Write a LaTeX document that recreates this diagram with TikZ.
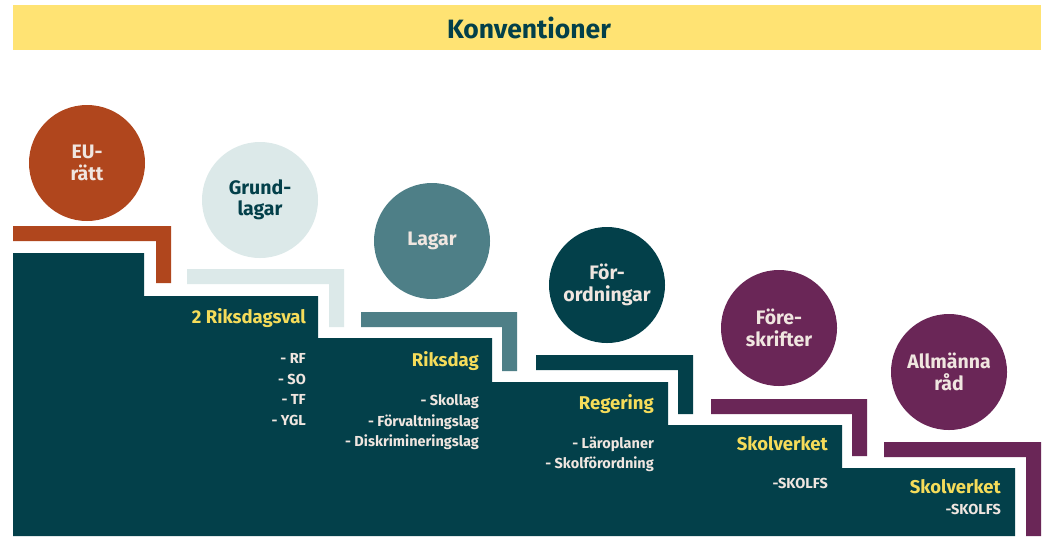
\documentclass[tikz,border=0pt]{standalone}
\usepackage{fontspec}
\setmainfont{Fira Sans}
\definecolor{band}{RGB}{255,227,115}
\definecolor{darkteal}{RGB}{3,64,74}
\definecolor{rust}{RGB}{176,70,29}
\definecolor{pale}{RGB}{220,233,233}
\definecolor{midteal}{RGB}{78,127,135}
\definecolor{plum}{RGB}{106,38,87}
\definecolor{gold}{RGB}{245,220,90}
\definecolor{cream}{RGB}{240,230,224}
\tikzset{
  disc/.style={circle, minimum size=116pt, inner sep=0pt, align=center, font=\fontsize{19.5}{21.5}\selectfont\bfseries},
  head/.style={anchor=east, inner sep=0pt, text=gold, font=\fontsize{18.5}{21}\selectfont\bfseries},
  item/.style={anchor=east, inner sep=0pt, text=cream, font=\fontsize{14.5}{17}\selectfont\bfseries},
}
\newcommand{\bracketshape}[5]{% color, L, T, R, B
  \fill[#1] (#2,#3) -- (#4,#3) -- (#4,#5) -- ({#4-15},#5) -- ({#4-15},{#3+15}) -- (#2,{#3+15}) -- cycle;}
\begin{document}
\begin{tikzpicture}[x=1pt,y=-1pt]
\useasboundingbox (0,0) rectangle (1048,536);
\fill[white] (0,0) rectangle (1048,536);
% title band
\fill[band] (13,5) rectangle (1041,50);
\node[font=\fontsize{26.5}{30}\selectfont\bfseries, text=darkteal, inner sep=0pt] (title) at (529,28) {Konventioner};
% staircase
\fill[darkteal] (13,253) -- (144,253) -- (144,296) -- (318,296) -- (318,338) -- (492,338) -- (492,382) -- (668,382) -- (668,425) -- (842,425) -- (842,468) -- (1015,468) -- (1015,536) -- (13,536) -- cycle;
% brackets
\bracketshape{rust}{13}{226}{171}{283}
\bracketshape{pale}{187}{269}{344}{327}
\bracketshape{midteal}{361}{312}{517}{371}
\bracketshape{darkteal}{536}{355}{693}{414}
\bracketshape{plum}{711}{399}{867}{456}
\bracketshape{plum}{884}{442}{1041}{536}
% circles
\node[disc, fill=rust, text=cream] (eu) at (87,163) {EU-\\rätt};
\node[disc, fill=pale, text=darkteal] (grund) at (260,200) {Grund-\\lagar};
\node[disc, fill=midteal, text=cream] (lagar) at (432,241) {Lagar};
\node[disc, fill=darkteal, text=cream] (forord) at (607,285) {För-\\ordningar};
\node[disc, fill=plum, text=cream] (fores) at (779,328) {Före-\\skrifter};
\node[disc, fill=plum, text=cream] (allm) at (949,372) {Allmänna\\råd};
% step texts
\node[head] (h1) at (306,318) {2 Riksdagsval};
\node[item] (rf) at (306,358) {- RF};
\node[item] (so) at (306,379) {- SO};
\node[item] (tf) at (306,399) {- TF};
\node[item] (ygl) at (306,420) {- YGL};
\node[head] (h2) at (479,361) {Riksdag};
\node[item] (skollag) at (479,402) {- Skollag};
\node[item] (forv) at (479,422) {- Förvaltningslag};
\node[item] (disk) at (479,442) {- Diskrimineringslag};
\node[head] (h3) at (654,404) {Regering};
\node[item] (laro) at (654,444) {- Läroplaner};
\node[item] (skolf) at (654,464) {- Skolförordning};
\node[head] (h4) at (828,444) {Skolverket};
\node[item] (skolfs1) at (828,483) {-SKOLFS};
\node[head] (h5) at (1001,487) {Skolverket};
\node[item] (skolfs2) at (1001,509) {-SKOLFS};
\end{tikzpicture}
\end{document}
